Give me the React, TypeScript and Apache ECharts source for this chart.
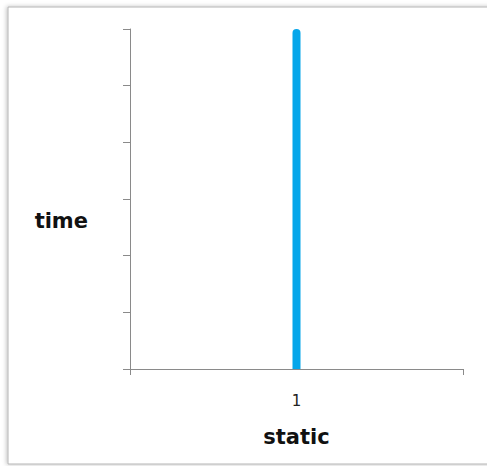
import React, { useEffect, useRef } from "react";
import * as echarts from "echarts";

const categories = ["1"];
const values = [6];
const yMin = 0;
const yMax = 6;
const yInterval = 1;
const yTitle = "time";
const xTitle = "static";

export default function App() {
  const ref = useRef<HTMLDivElement>(null);
  useEffect(() => {
    if (!ref.current) return;
    const chart = echarts.init(ref.current, null, { renderer: "svg" });
    const axisColor = "#8a8a8a";
    chart.setOption({
      animation: false,
      backgroundColor: "#ffffff",
      graphic: [
        {
          type: "rect",
          shape: { x: 8, y: 7, width: 490, height: 457 },
          style: {
            fill: "#ffffff",
            stroke: "#b4b4b4",
            lineWidth: 1,
            shadowBlur: 4,
            shadowColor: "rgba(0,0,0,0.25)",
            shadowOffsetX: -1,
            shadowOffsetY: 0,
          },
          z: -10,
        },
        {
          type: "text",
          x: 88,
          y: 221,
          style: {
            text: yTitle,
            fontFamily: "DejaVu Sans",
            fontWeight: "bold",
            fontSize: 21,
            fill: "#111",
            align: "right",
            verticalAlign: "middle",
          },
        },
      ],
      grid: { left: 130, right: 24, top: 29, bottom: 97 },
      xAxis: {
        type: "category",
        data: categories,
        name: xTitle,
        nameLocation: "middle",
        nameGap: 57,
        nameTextStyle: {
          fontFamily: "DejaVu Sans",
          fontWeight: "bold",
          fontSize: 21,
          color: "#111",
        },
        axisLine: { lineStyle: { color: axisColor, width: 1 } },
        axisTick: { show: true, length: 6, lineStyle: { color: axisColor } },
        axisLabel: {
          margin: 24,
          fontFamily: "DejaVu Sans",
          fontSize: 15,
          color: "#222",
        },
      },
      yAxis: {
        type: "value",
        min: yMin,
        max: yMax,
        interval: yInterval,
        axisLine: { show: true, lineStyle: { color: axisColor, width: 1 } },
        axisTick: { show: true, length: 7, lineStyle: { color: axisColor } },
        axisLabel: { show: false },
        splitLine: { show: false },
      },
      series: [
        {
          type: "bar",
          data: values,
          barWidth: 8,
          itemStyle: { color: "#05a6ea", borderRadius: [4, 4, 0, 0] },
        },
      ],
    });
    return () => chart.dispose();
  }, []);
  return (
    <div
      ref={ref}
      style={{ position: "absolute", left: 0, top: 0, width: 487, height: 466 }}
    />
  );
}
